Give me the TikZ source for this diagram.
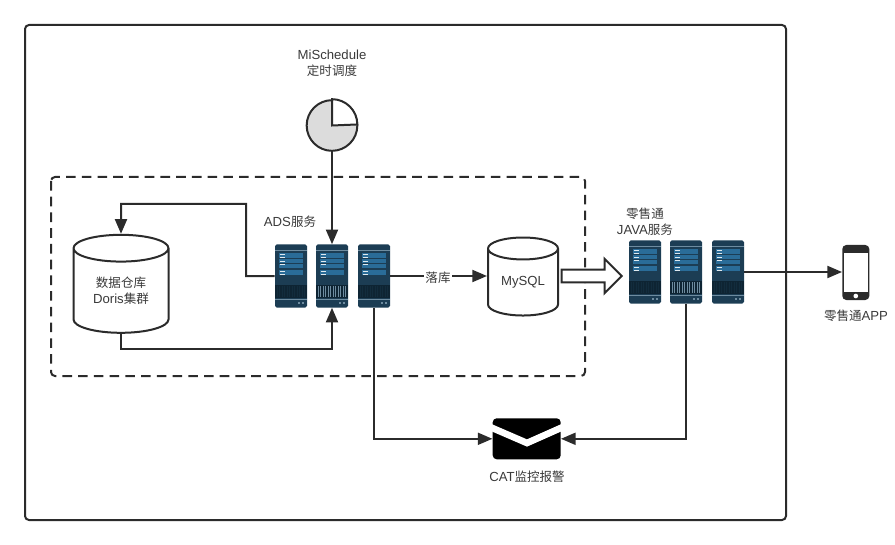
\documentclass[tikz,border=0pt]{standalone}
\usepackage{fontspec}
\usepackage{tikz}
\usetikzlibrary{arrows.meta,shapes.geometric,shapes.arrows}
\setmainfont[Scale=1.05]{Liberation Sans}
\newfontfamily\cjkfont{Noto Sans CJK SC}
\newcommand{\zh}[1]{{\cjkfont #1}}
\definecolor{inkline}{HTML}{2B2B2B}
\definecolor{labelgray}{HTML}{3A3A3A}
\definecolor{serverbody}{HTML}{1C3D54}
\definecolor{serverblue}{HTML}{2A6C98}
\definecolor{serverdark}{HTML}{0E2433}
\definecolor{serverlight}{HTML}{6E8CA0}
\definecolor{clockgray}{HTML}{DCDCDC}
% rack: name, x, y, colour of the grille bars
\newcommand{\rackunit}[4]{%
  \node [rack] (#1) at (#2,#3) {};
  \begin{scope}[shift={(#1.north west)}]
  \fill [serverlight] (0,5.5) rectangle (32,6.5);
  \fill [serverblue] (4,9) rectangle (28,14);
  \fill [serverblue] (4,15) rectangle (28,19);
  \fill [serverblue] (4,20) rectangle (28,24);
  \fill [serverblue] (4,26) rectangle (28,31);
  \foreach \rowy in {10,12.5,16.5,19.5,27,29.5}
    \fill [white!85!serverblue] (5,\rowy) rectangle (10,\rowy+1);
  \fill [serverdark] (0,41) rectangle (32,54);
  \foreach \barx in {2,4.5,...,30}
    \fill [#4] (\barx,42) rectangle (\barx+0.8,53);
  \fill [serverlight] (0,54.5) rectangle (32,55.5);
  \fill [serverlight] (23,58) rectangle (25,60);
  \fill [serverlight] (27,58) rectangle (29,60);
  \end{scope}}
\tikzset{
  outerbox/.style={draw=inkline,line width=1.5pt,rounded corners=3pt},
  groupbox/.style={draw=inkline,line width=1.5pt,rounded corners=3pt,dash pattern=on 7.2pt off 4.6pt},
  rack/.style={rounded corners=1.2pt,fill=serverbody,minimum width=24pt,minimum height=47.25pt,inner sep=0pt},
  store/.style={cylinder,shape border rotate=90,draw=inkline,fill=white,line width=1.5pt,inner sep=0pt,align=center,font=\fontsize{9.4pt}{12pt}\selectfont,text=labelgray},
  label/.style={align=center,inner sep=0pt,font=\fontsize{9.4pt}{12pt}\selectfont,text=labelgray},
  link/.style={draw=inkline,line width=1.5pt},
  flow/.style={link,-{Triangle[length=11pt,width=9pt]}},
}
\begin{document}
\begin{tikzpicture}[x=0.75pt,y=0.75pt,yscale=-1,xscale=1]
\useasboundingbox (0,0) rectangle (895,545);

%Boxes
\draw [outerbox] (25,25) rectangle (786,520);
\draw [groupbox] (51,177) rectangle (585,376);

%Scheduler
\node [label] (schedulelabel) at (332,63) {MiSchedule\\\zh{定时调度}};
\node [circle,draw=inkline,fill=clockgray,line width=1.5pt,minimum size=38pt,inner sep=0pt] (clock) at (332,125.5) {};
\draw [draw=inkline,fill=white,line width=1.5pt] (clock.center) -- (clock.north) arc [start angle=-90,end angle=0,radius=25.3] -- cycle;

%Stores
\node [store,minimum width=71.25pt,minimum height=73.5pt,aspect=0.48] (doris) at (121,291) {\zh{数据仓库}\\Doris\zh{集群}};
\node [store,minimum width=52.5pt,minimum height=58.5pt,aspect=0.5] (mysql) at (523,282.5) {MySQL};

%ADS racks
\rackunit{adsa}{291}{276}{serverdark!70!serverbody}
\rackunit{adsb}{332}{276}{serverlight}
\rackunit{adsc}{374}{276}{serverdark!70!serverbody}
\node [label] (adslabel) at (290,222) {ADS\zh{服务}};

%JAVA racks
\rackunit{javaa}{645}{272}{serverdark!70!serverbody}
\rackunit{javab}{686}{272}{serverlight}
\rackunit{javac}{728}{272}{serverdark!70!serverbody}
\node [label] (javalabel) at (645,222) {\zh{零售通}\\JAVA\zh{服务}};

%Phone
\node [rounded corners=3pt,fill=inkline,minimum width=20.25pt,minimum height=41.25pt,inner sep=0pt] (phone) at (855.8,272.5) {};
\node [fill=white,minimum width=17.6pt,minimum height=29.7pt,inner sep=0pt] (screen) at (855.8,272.5) {};
\node [circle,fill=white,minimum size=3.5pt,inner sep=0pt] (homekey) at (855.8,296) {};
\node [label] (phonelabel) at (856,316) {\zh{零售通}APP};

%Mail
\node [rounded corners=3pt,fill=black,minimum width=51pt,minimum height=30.75pt,inner sep=0pt] (mail) at (526.7,438.8) {};
\coordinate (flapa) at (490,427);
\coordinate (flapb) at (527,443);
\coordinate (flapc) at (563,427);
\draw [white,line width=5pt] (flapa) -- (flapb) -- (flapc);
\node [label] (maillabel) at (527,477) {CAT\zh{监控报警}};

%Hand-over arrow
\node [single arrow,draw=inkline,fill=white,line width=1.5pt,minimum height=45pt,minimum width=24.5pt,single arrow head extend=8pt,single arrow tip angle=90,inner xsep=0pt,inner ysep=4.1pt] (handover) at (588.5,276) {};

%Connectors
\coordinate (doristurn) at (121,204);
\coordinate (adsturn) at (246,204);
\coordinate (floorturn) at (121,349);
\draw [flow] (clock) -- (adsb);
\draw [flow] (adsa.west) -- (adsa.west -| adsturn) -- (adsturn) -- (doristurn) -- (doris.north);
\draw [flow] (doris.south) -- (floorturn) -| (adsb.south);
\draw [flow] (adsc.east) -- (mysql.west |- adsc.east);
\node [label,fill=white,inner xsep=1pt,inner ysep=1pt] (storelabel) at (438,278) {\zh{落库}};
\draw [flow] (javac.east) -- (javac.east -| phone.west);
\draw [flow] (adsc.south) |- (mail.west);
\draw [flow] (javab.south) |- (mail.east);
\end{tikzpicture}
\end{document}
